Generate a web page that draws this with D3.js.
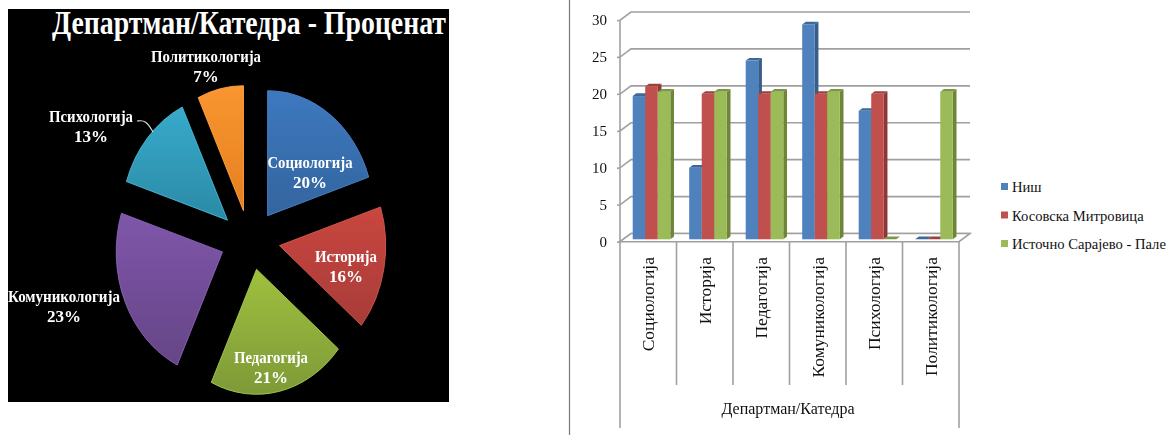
<!DOCTYPE html>
<html>
<head>
<meta charset="utf-8">
<script src="https://cdn.jsdelivr.net/npm/d3@7"></script>
<style>
  html, body { margin: 0; padding: 0; background: #fff; }
  svg { display: block; }
  text { font-family: "Liberation Serif", serif; }
</style>
</head>
<body>
<svg id="chart" width="1176" height="436"></svg>
<script>
// Share of respondents per department
const pieTitle = "Департман/Катедра - Проценат";
const departments = ["Социологија", "Историја", "Педагогија", "Комуникологија", "Психологија", "Политикологија"];
const sharePercent = [20, 16, 21, 23, 13, 7];

// Share per department for each university
const universities = ["Ниш", "Косовска Митровица", "Источно Сарајево - Пале"];
const nisValues = [19.4, 9.7, 24.2, 29.1, 17.4, 0];
const mitrovicaValues = [20.7, 19.7, 19.7, 19.7, 19.7, 0];
const paleValues = [20, 20, 20, 20, 0, 20];
const axisTitle = "Департман/Катедра";
const yTicks = [0, 5, 10, 15, 20, 25, 30];

const svg = d3.select("#chart");
const defs = svg.append("defs");

defs.append("filter").attr("id", "soft")
  .attr("x", "-5%").attr("y", "-5%").attr("width", "110%").attr("height", "110%")
  .append("feGaussianBlur").attr("stdDeviation", 0.7);

/* ---------- exploded pie on black ---------- */
const pieTones = [
  { top: "#3d78bf", bottom: "#33659f", edge: "#4a84c8" },
  { top: "#c9463f", bottom: "#a83c38", edge: "#d2574f" },
  { top: "#9fc03e", bottom: "#7d9a38", edge: "#aac94e" },
  { top: "#7f56aa", bottom: "#654586", edge: "#8a63b6" },
  { top: "#38aacb", bottom: "#2a8aa6", edge: "#4ab8d6" },
  { top: "#f99630", bottom: "#e67f20", edge: "#ffa544" }
];
pieTones.forEach((t, i) => {
  const g = defs.append("linearGradient").attr("id", "slice" + i)
    .attr("x1", 0).attr("y1", 0).attr("x2", 0).attr("y2", 1);
  g.append("stop").attr("offset", "0%").attr("stop-color", t.top);
  g.append("stop").attr("offset", "100%").attr("stop-color", t.bottom);
});

const piePanel = svg.append("g");
piePanel.append("rect").attr("x", 8).attr("y", 9).attr("width", 441).attr("height", 393).attr("fill", "#000");

const pieCentre = [250, 240];
const pieRadius = 125;
const pieSquash = 0.85;
const explode = 30;

const slices = d3.pie().sort(null)(sharePercent);
const arc = d3.arc().innerRadius(0).outerRadius(pieRadius);

const sliceGroup = piePanel.append("g").attr("filter", "url(#soft)");
sliceGroup.selectAll("path").data(slices).join("path")
  .attr("d", arc)
  .attr("fill", (d, i) => `url(#slice${i})`)
  .attr("stroke", (d, i) => pieTones[i].edge)
  .attr("stroke-width", 1)
  .attr("stroke-linejoin", "round")
  .attr("transform", d => {
    const mid = (d.startAngle + d.endAngle) / 2;
    const ox = pieCentre[0] + explode * Math.sin(mid);
    const oy = pieCentre[1] - explode * Math.cos(mid);
    return `translate(${ox},${oy}) scale(${pieSquash},1)`;
  });

piePanel.append("text").text(pieTitle)
  .attr("x", 249).attr("y", 34).attr("text-anchor", "middle")
  .attr("font-size", 33).attr("font-weight", "bold").attr("fill", "#fff")
  .attr("textLength", 394).attr("lengthAdjust", "spacingAndGlyphs");

// Label centres for the two-line slice captions
const labelSpots = [[310, 168], [346, 262], [271, 363], [64, 302], [91, 122], [206, 62]];
const labelWidths = [85, 62, 74, 112, 84, 110];
const labels = piePanel.selectAll("g.lbl").data(departments).join("g").attr("class", "lbl")
  .attr("transform", (d, i) => `translate(${labelSpots[i][0]},${labelSpots[i][1]})`)
  .attr("fill", "#fff").attr("font-weight", "bold").attr("text-anchor", "middle");
labels.append("text").text(d => d).attr("font-size", 17.5)
  .attr("textLength", (d, i) => labelWidths[i]).attr("lengthAdjust", "spacingAndGlyphs");
labels.append("text").text((d, i) => sharePercent[i] + "%").attr("y", 20).attr("font-size", 17);

piePanel.append("path")
  .attr("d", d3.line().curve(d3.curveBasis)([[137, 121], [146, 120], [153, 132]]))
  .attr("fill", "none").attr("stroke", "#ddd").attr("stroke-width", 1.2);

/* ---------- divider ---------- */
svg.append("line").attr("x1", 569.5).attr("x2", 569.5).attr("y1", 0).attr("y2", 435)
  .attr("stroke", "#777").attr("stroke-width", 1.2);

/* ---------- 3-D clustered columns ---------- */
const plotLeft = 620, plotRight = 959;
const wallDx = 11, wallDy = 8.2;
const barDx = 3.7, barDy = 2.7, barLift = 5.8;

const series = [nisValues, mitrovicaValues, paleValues];
const seriesFill = ["#4f81bd", "#c0504d", "#9bbb59"];
const seriesSide = ["#385d8a", "#8c3836", "#6f8638"];
const seriesTop = ["#3f6797", "#9a403e", "#7c9647"];

const x0 = d3.scaleBand().domain(departments).range([plotLeft, plotRight]);
const x1 = d3.scaleBand().domain(d3.range(3)).range([12.7, 50.3]);
const y = d3.scaleLinear().domain([0, 30]).range([233.5, 12]);

const gridColor = "#a0a0a0";
const chart = svg.append("g");

// Back wall gridlines with their diagonal run to the side wall
chart.selectAll("path.grid").data(yTicks).join("path").attr("class", "grid")
  .attr("d", v => d3.line()([
    [plotLeft - 3, y(v) + wallDy + 0.5],
    [plotLeft, y(v) + wallDy],
    [plotLeft + wallDx, y(v)],
    [plotRight + wallDx, y(v)]
  ]))
  .attr("fill", "none").attr("stroke", gridColor).attr("stroke-width", 1.6);

// Side wall edge
chart.append("line").attr("x1", plotLeft).attr("x2", plotLeft)
  .attr("y1", y(30) + wallDy).attr("y2", y(0) + wallDy)
  .attr("stroke", gridColor).attr("stroke-width", 1.6);

// Floor
chart.append("path")
  .attr("d", d3.line()([
    [plotLeft, y(0) + wallDy], [plotRight, y(0) + wallDy],
    [plotRight + wallDx, y(0)], [plotLeft + wallDx, y(0)]
  ]) + "Z")
  .attr("fill", "#fff").attr("stroke", gridColor).attr("stroke-width", 1.6);

// Column faces: side, top, then front, drawn series by series
departments.forEach((dep, c) => {
  series.forEach((vals, s) => {
    const left = x0(dep) + x1(s);
    const w = x1.bandwidth();
    const base = y(0) + barLift;
    const top = y(vals[c]) + barLift;
    const g = chart.append("g");
    g.append("path")
      .attr("d", d3.line()([[left + w, top], [left + w + barDx, top - barDy], [left + w + barDx, base - barDy], [left + w, base]]) + "Z")
      .attr("fill", seriesSide[s]);
    g.append("path")
      .attr("d", d3.line()([[left, top], [left + w, top], [left + w + barDx, top - barDy], [left + barDx, top - barDy]]) + "Z")
      .attr("fill", seriesTop[s]);
    g.append("rect").attr("x", left).attr("y", top).attr("width", w).attr("height", base - top)
      .attr("fill", seriesFill[s]);
  });
});

// Value axis labels
chart.selectAll("text.ytick").data(yTicks).join("text").attr("class", "ytick")
  .text(d => d)
  .attr("x", 607).attr("y", v => y(v) + wallDy + 5)
  .attr("text-anchor", "end").attr("font-size", 15).attr("fill", "#111");

// Category dividers under the floor
const boundaries = departments.map(d => x0(d)).concat([plotRight]);
const floorFront = y(0) + wallDy;
chart.selectAll("line.div").data(boundaries).join("line").attr("class", "div")
  .attr("x1", d => d).attr("x2", d => d).attr("y1", floorFront)
  .attr("y2", (d, i) => (i === 0 || i === departments.length) ? 428 : 385)
  .attr("stroke", gridColor).attr("stroke-width", 1.6);

// Rotated category names
chart.selectAll("text.cat").data(departments).join("text").attr("class", "cat")
  .text(d => d)
  .attr("transform", d => `translate(${x0(d) + x0.bandwidth() / 2 + 6},257) rotate(-90)`)
  .attr("text-anchor", "end").attr("font-size", 17.5).attr("fill", "#111");

chart.append("text").text(axisTitle)
  .attr("x", 788).attr("y", 414).attr("text-anchor", "middle")
  .attr("font-size", 16).attr("fill", "#111");

// Legend
const legend = svg.selectAll("g.legend").data(universities).join("g").attr("class", "legend")
  .attr("transform", (d, i) => `translate(1001,${187 + i * 28.5})`);
legend.append("rect").attr("x", 0).attr("y", -4).attr("width", 7).attr("height", 7)
  .attr("fill", (d, i) => seriesFill[i]);
legend.append("text").text(d => d).attr("x", 11).attr("y", 5)
  .attr("font-size", 14.6).attr("fill", "#111");
</script>
</body>
</html>
